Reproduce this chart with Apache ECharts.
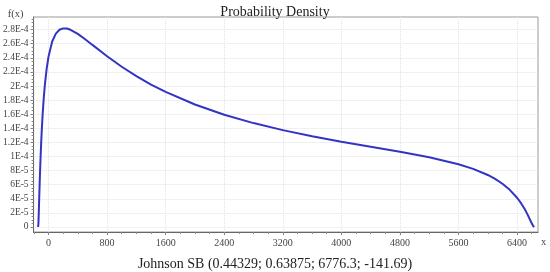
<!DOCTYPE html>
<html>
<head>
<meta charset="utf-8">
<script src="https://cdn.jsdelivr.net/npm/echarts@6/dist/echarts.min.js"></script>
<style>
  html, body { margin: 0; padding: 0; background: #fff; }
  #chart { width: 550px; height: 272px; }
</style>
</head>
<body>
<div id="chart"></div>
<script>
// density curve
const xValues = [-141.69, -140, -138, -135, -130, -125, -120, -110, -100, -90, -80, -65, -50, -25,
                 0, 50, 100, 150, 200, 250, 300, 400, 500, 600, 800, 1000, 1200, 1400, 1600,
                 2000, 2400, 2800, 3200, 3600, 4000, 4400, 4800, 5200, 5600, 5800, 6000, 6100,
                 6200, 6300, 6400, 6450, 6500, 6530, 6560, 6590, 6600, 6620, 6634.6];
const densityValues = [0, 1.1e-6, 5.2e-6, 1.40e-5, 3.12e-5, 4.86e-5, 6.52e-5, 9.51e-5, 1.204e-4, 1.420e-4, 1.602e-4, 1.833e-4, 2.015e-4, 2.251e-4,
                 2.417e-4, 2.632e-4, 2.743e-4, 2.798e-4, 2.817e-4, 2.815e-4, 2.798e-4, 2.739e-4, 2.664e-4, 2.583e-4, 2.422e-4, 2.273e-4, 2.140e-4, 2.021e-4, 1.916e-4,
                 1.738e-4, 1.593e-4, 1.474e-4, 1.374e-4, 1.288e-4, 1.210e-4, 1.139e-4, 1.067e-4, 9.89e-5, 8.91e-5, 8.25e-5, 7.38e-5, 6.82e-5,
                 6.14e-5, 5.27e-5, 4.15e-5, 3.45e-5, 2.61e-5, 2.04e-5, 1.41e-5, 7.4e-6, 5.2e-6, 1.3e-6, 0];

// tick labels
const xTickLabels = [0, 800, 1600, 2400, 3200, 4000, 4800, 5600, 6400];
const yTickLabels = [0, 2e-5, 4e-5, 6e-5, 8e-5, 1e-4, 1.2e-4, 1.4e-4, 1.6e-4, 1.8e-4, 2e-4, 2.2e-4, 2.4e-4, 2.6e-4, 2.8e-4];
const xMinorTicks = [-200, 0, 200, 400, 600, 800, 1000, 1200, 1400, 1600, 1800, 2000, 2200, 2400, 2600, 2800, 3000,
                     3200, 3400, 3600, 3800, 4000, 4200, 4400, 4600, 4800, 5000, 5200, 5400, 5600, 5800, 6000, 6200, 6400, 6600];
const yMinorTicks = [0, 5e-6, 1e-5, 1.5e-5, 2e-5, 2.5e-5, 3e-5, 3.5e-5, 4e-5, 4.5e-5, 5e-5, 5.5e-5, 6e-5, 6.5e-5, 7e-5, 7.5e-5,
                     8e-5, 8.5e-5, 9e-5, 9.5e-5, 1e-4, 1.05e-4, 1.1e-4, 1.15e-4, 1.2e-4, 1.25e-4, 1.3e-4, 1.35e-4, 1.4e-4, 1.45e-4,
                     1.5e-4, 1.55e-4, 1.6e-4, 1.65e-4, 1.7e-4, 1.75e-4, 1.8e-4, 1.85e-4, 1.9e-4, 1.95e-4, 2e-4, 2.05e-4, 2.1e-4,
                     2.15e-4, 2.2e-4, 2.25e-4, 2.3e-4, 2.35e-4, 2.4e-4, 2.45e-4, 2.5e-4, 2.55e-4, 2.6e-4, 2.65e-4, 2.7e-4, 2.75e-4,
                     2.8e-4, 2.85e-4, 2.9e-4, 2.95e-4];

const FONT = '"Liberation Serif", "DejaVu Serif", serif';
const X_MIN = -204, X_MAX = 6686;
const Y_MIN = -7.1e-6, Y_MAX = 2.979e-4;

// 2.8E-4 style labels
function sciLabel(v) {
    if (Math.abs(v) < 1e-12) return '0';
    const e = Math.floor(Math.log10(v) + 1e-9);
    const m = +(v / Math.pow(10, e)).toFixed(1);
    return m + 'E' + e;
}

const chart = echarts.init(document.getElementById('chart'));

const option = {
    animation: false,
    title: [
        {
            text: 'Probability Density',
            left: 'center',
            top: 0,
            textStyle: { fontFamily: FONT, fontSize: 14, fontWeight: 'normal', color: '#222' }
        },
        {
            text: 'Johnson SB (0.44329; 0.63875; 6776.3; -141.69)',
            left: 'center',
            top: 252,
            textStyle: { fontFamily: FONT, fontSize: 14, fontWeight: 'normal', color: '#222' }
        }
    ],
    grid: {
        left: 32,
        right: 12,
        top: 17,
        bottom: 40,
        show: true,
        borderColor: '#999',
        borderWidth: 1
    },
    xAxis: [
        {
            type: 'value',
            min: X_MIN,
            max: X_MAX,
            name: 'x',
            nameLocation: 'end',
            nameGap: 3,
            nameTextStyle: { fontFamily: FONT, fontSize: 10.5, color: '#444', verticalAlign: 'top', padding: [5, 0, 0, 0] },
            axisLine: { onZero: false, lineStyle: { color: '#666' } },
            axisTick: { customValues: xTickLabels, length: 3, lineStyle: { color: '#777' } },
            axisLabel: {
                customValues: xTickLabels,
                margin: 6,
                fontFamily: FONT,
                fontSize: 10,
                color: '#444',
                formatter: v => String(v)
            },
            splitLine: { show: true, lineStyle: { color: '#e2e2e2', type: 'dotted' } }
        },
        {
            // minor ticks only
            type: 'value',
            position: 'bottom',
            min: X_MIN,
            max: X_MAX,
            axisLine: { show: false, onZero: false },
            axisTick: { show: true, customValues: xMinorTicks, length: 2, lineStyle: { color: '#888' } },
            axisLabel: { show: false },
            splitLine: { show: false }
        }
    ],
    yAxis: [
        {
            type: 'value',
            min: Y_MIN,
            max: Y_MAX,
            name: 'f(x)',
            nameLocation: 'end',
            nameGap: -3,
            nameTextStyle: { fontFamily: FONT, fontSize: 10.5, color: '#444', align: 'right', verticalAlign: 'bottom', padding: [0, 10, 0, 0] },
            axisLine: { show: true, onZero: false, lineStyle: { color: '#666' } },
            axisTick: { show: true, customValues: yTickLabels, length: 3, lineStyle: { color: '#777' } },
            axisLabel: {
                customValues: yTickLabels,
                margin: 5,
                fontFamily: FONT,
                fontSize: 9.5,
                color: '#444',
                formatter: sciLabel
            },
            splitLine: { show: true, lineStyle: { color: '#e2e2e2', type: 'dotted' } }
        },
        {
            // minor ticks only
            type: 'value',
            position: 'left',
            min: Y_MIN,
            max: Y_MAX,
            axisLine: { show: false, onZero: false },
            axisTick: { show: true, customValues: yMinorTicks, length: 2, lineStyle: { color: '#888' } },
            axisLabel: { show: false },
            splitLine: { show: false }
        }
    ],
    series: [
        {
            type: 'line',
            data: xValues.map((x, i) => [x, densityValues[i]]),
            showSymbol: false,
            symbol: 'none',
            lineStyle: { color: '#3333c4', width: 2 }
        }
    ]
};

chart.setOption(option);
</script>
</body>
</html>
